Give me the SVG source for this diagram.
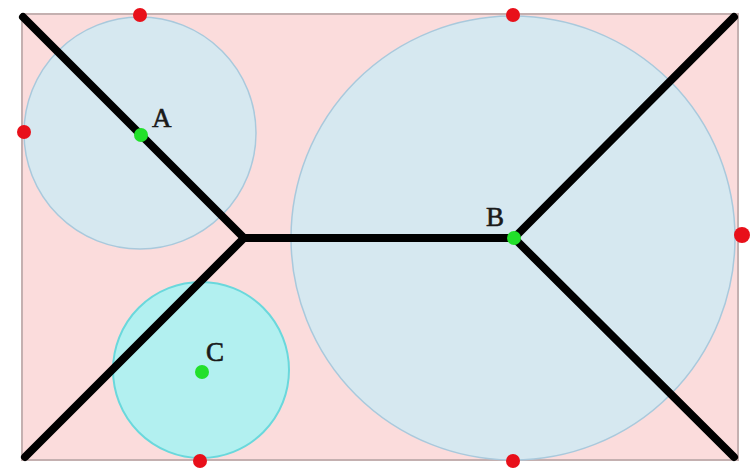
<svg xmlns="http://www.w3.org/2000/svg" width="750" height="470" viewBox="0 0 750 470">
<style>
.site{fill:#d6e8f0;stroke:#a9c9dc;stroke-width:1.5}
.sitec{fill:#b2f0f0;stroke:#6ad8dc;stroke-width:2}
.edge{stroke:#000;stroke-width:8;stroke-linecap:round;fill:none}
.red{fill:#e8101a}
.green{fill:#22e02a}
.lbl{font-family:"Liberation Serif","Times New Roman",serif;font-size:27px;fill:#1a1a1a;stroke:#1a1a1a;stroke-width:0.6}
</style>
<rect x="0" y="0" width="750" height="470" fill="#ffffff"/>
<rect id="frame" x="22" y="14" width="716" height="446" fill="#fbdcdc" stroke="#c4b0b0" stroke-width="2"/>
<g id="circleA"><circle class="site" cx="140" cy="133" r="116"/></g>
<g id="circleB"><circle class="site" cx="513" cy="238" r="222"/></g>
<g id="circleC"><circle class="sitec" cx="201" cy="370" r="88"/></g>
<g id="connectors">
<line class="edge" x1="23" y1="17" x2="244" y2="238"/>
<line class="edge" x1="25" y1="457" x2="244" y2="238"/>
<line class="edge" x1="244" y1="238" x2="514" y2="238"/>
<line class="edge" x1="514" y1="238" x2="734" y2="17"/>
<line class="edge" x1="514" y1="238" x2="734" y2="457"/>
</g>
<g id="redpoints">
<circle class="red" cx="140" cy="15" r="7"/>
<circle class="red" cx="513" cy="15" r="7"/>
<circle class="red" cx="24" cy="132" r="7"/>
<circle class="red" cx="742" cy="235" r="8"/>
<circle class="red" cx="200" cy="461" r="7"/>
<circle class="red" cx="513" cy="461" r="7"/>
</g>
<g id="nodeA"><circle class="green" cx="141" cy="135" r="7"/><text class="lbl" x="152" y="127">A</text></g>
<g id="nodeB"><circle class="green" cx="514" cy="238" r="7"/><text class="lbl" x="486" y="226">B</text></g>
<g id="nodeC"><circle class="green" cx="202" cy="372" r="7"/><text class="lbl" x="206" y="361">C</text></g>
</svg>
